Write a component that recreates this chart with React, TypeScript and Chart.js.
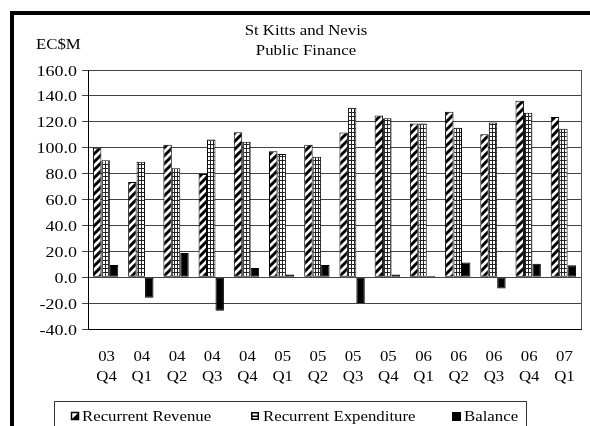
import React, { useEffect, useRef } from 'react';
import { Chart, registerables } from 'chart.js';

Chart.register(...registerables);

const categories: string[][] = [
  ['03', 'Q4'], ['04', 'Q1'], ['04', 'Q2'], ['04', 'Q3'], ['04', 'Q4'],
  ['05', 'Q1'], ['05', 'Q2'], ['05', 'Q3'], ['05', 'Q4'],
  ['06', 'Q1'], ['06', 'Q2'], ['06', 'Q3'], ['06', 'Q4'], ['07', 'Q1'],
];
const revenue = [100.0, 73.6, 102.3, 79.7, 112.0, 97.2, 102.3, 111.8, 124.9, 118.7, 127.7, 110.3, 136.2, 123.8];
const expenditure = [90.3, 89.2, 84.1, 106.4, 104.6, 95.1, 93.1, 130.8, 122.8, 118.7, 115.4, 119.5, 126.9, 114.6];
const balance = [9.5, -15.9, 18.7, -25.9, 7.2, 2.0, 9.5, -20.0, 2.0, 1.0, 11.3, -8.7, 10.3, 9.2];
const seriesNames = ['Recurrent Revenue', 'Recurrent Expenditure', 'Balance'];
const titleLines = ['St Kitts and Nevis', 'Public Finance'];
const unitLabel = 'EC$M';
const yMin = -40;
const yMax = 160;
const yStep = 20;

const FONT = '15px "Liberation Serif", "Times New Roman", serif';
const SX = 1.12;

function stretchText(ctx: CanvasRenderingContext2D, text: string, x: number, y: number, align: CanvasTextAlign, sx: number = SX) {
  ctx.save();
  ctx.font = FONT;
  ctx.fillStyle = '#000';
  ctx.textBaseline = 'alphabetic';
  ctx.translate(x, y);
  ctx.scale(sx, 1);
  ctx.textAlign = align;
  ctx.fillText(text, 0, 0);
  ctx.restore();
}

function makeDiagPattern(): CanvasPattern | string {
  const c = document.createElement('canvas');
  c.width = 8; c.height = 8;
  const g = c.getContext('2d');
  if (!g) return '#000';
  g.fillStyle = '#fff';
  g.fillRect(0, 0, 8, 8);
  g.strokeStyle = '#000';
  g.lineWidth = 3;
  g.beginPath();
  g.moveTo(-2, 10); g.lineTo(10, -2);
  g.moveTo(-6, 6); g.lineTo(6, -6);
  g.moveTo(2, 14); g.lineTo(14, 2);
  g.stroke();
  const p = g.createPattern(c, 'repeat');
  return p || '#000';
}

function makeGridPattern(): CanvasPattern | string {
  const c = document.createElement('canvas');
  c.width = 3; c.height = 4;
  const g = c.getContext('2d');
  if (!g) return '#fff';
  g.fillStyle = '#fff';
  g.fillRect(0, 0, 3, 4);
  g.fillStyle = '#222';
  g.fillRect(0, 0, 1, 4);
  g.fillRect(0, 0, 3, 1);
  const p = g.createPattern(c, 'repeat');
  return p || '#fff';
}

const decorPlugin = {
  id: 'decor',
  afterDraw(chart: any) {
    const ctx: CanvasRenderingContext2D = chart.ctx;
    const area = chart.chartArea;
    const yScale = chart.scales.y;
    const xScale = chart.scales.x;
    ctx.save();
    ctx.fillStyle = '#000';
    ctx.fillRect(10, 11, 580, 4);
    ctx.fillRect(10, 11, 4, 415);
    ctx.strokeStyle = '#555';
    ctx.lineWidth = 1;
    ctx.beginPath();
    ctx.moveTo(Math.round(area.right) + 0.5, area.top);
    ctx.lineTo(Math.round(area.right) + 0.5, area.bottom);
    ctx.stroke();
    ctx.restore();

    stretchText(ctx, titleLines[0], 306, 34.5, 'center');
    stretchText(ctx, titleLines[1], 306, 55, 'center');
    stretchText(ctx, unitLabel, 36, 48.5, 'left');

    yScale.ticks.forEach((t: any) => {
      const py = yScale.getPixelForValue(t.value);
      stretchText(ctx, Number(t.value).toFixed(1), area.left - 11, py + 5.5, 'right', 1.2);
    });
    categories.forEach((lab, i) => {
      const px = xScale.getPixelForTick(i) + 1;
      stretchText(ctx, lab[0], px, 361, 'center');
      stretchText(ctx, lab[1], px, 381, 'center');
    });

    ctx.save();
    ctx.strokeStyle = '#333';
    ctx.lineWidth = 1;
    ctx.strokeRect(54.5, 401.5, 472, 40);
    const iconXs = [71, 251, 452];
    const textXs = [82, 263, 464];
    const iy = 412;
    const s = 8;
    ctx.fillStyle = '#fff';
    ctx.fillRect(iconXs[0], iy, s, s);
    ctx.fillStyle = '#000';
    ctx.beginPath();
    ctx.moveTo(iconXs[0] + s, iy);
    ctx.lineTo(iconXs[0] + s, iy + s);
    ctx.lineTo(iconXs[0], iy + s);
    ctx.closePath();
    ctx.fill();
    ctx.strokeStyle = '#000';
    ctx.lineWidth = 1.5;
    ctx.strokeRect(iconXs[0] + 0.5, iy + 0.5, s - 1, s - 1);
    ctx.fillStyle = '#fff';
    ctx.fillRect(iconXs[1], iy, s, s);
    ctx.strokeRect(iconXs[1] + 0.75, iy + 0.75, s - 1.5, s - 1.5);
    ctx.fillStyle = '#000';
    ctx.fillRect(iconXs[1], iy + 3.5, s, 1.5);
    ctx.fillRect(iconXs[2], iy, s + 1, s + 1);
    ctx.restore();
    seriesNames.forEach((n, i) => stretchText(ctx, n, textXs[i], 421, 'left'));
  },
};

export default function App() {
  const ref = useRef<HTMLCanvasElement | null>(null);
  useEffect(() => {
    if (!ref.current) return;
    const diag = makeDiagPattern();
    const grid = makeGridPattern();
    const chart = new Chart(ref.current, {
      type: 'bar',
      data: {
        labels: categories,
        datasets: [
          { label: seriesNames[0], data: revenue, backgroundColor: diag as any, borderColor: '#000', borderWidth: 1, borderSkipped: false },
          { label: seriesNames[1], data: expenditure, backgroundColor: grid as any, borderColor: '#000', borderWidth: 1, borderSkipped: false },
          { label: seriesNames[2], data: balance, backgroundColor: '#000', borderColor: '#000', borderWidth: 1, borderSkipped: false },
        ],
      },
      options: {
        responsive: false,
        animation: false,
        devicePixelRatio: 1,
        layout: { padding: { top: 70, right: 9, bottom: 37, left: 0 } },
        datasets: { bar: { categoryPercentage: 0.72, barPercentage: 1.0 } },
        plugins: { legend: { display: false }, title: { display: false }, tooltip: { enabled: false } },
        scales: {
          x: {
            offset: true,
            grid: { display: false, drawTicks: false },
            border: { display: true, color: '#000', width: 1 },
            ticks: { display: false },
            afterFit: (scale: any) => { scale.height = 60; },
          },
          y: {
            min: yMin,
            max: yMax,
            ticks: { display: false, stepSize: yStep },
            grid: { color: '#444', lineWidth: 1, drawTicks: true, tickLength: 6 },
            border: { display: true, color: '#000', width: 1 },
            afterFit: (scale: any) => { scale.width = 88; },
          },
        },
      },
      plugins: [decorPlugin],
    });
    return () => chart.destroy();
  }, []);
  return (
    <div style={{ position: 'fixed', left: 0, top: 0, width: 590, height: 426, background: '#fff' }}>
      <canvas ref={ref} width={590} height={426} style={{ display: 'block' }} />
    </div>
  );
}
